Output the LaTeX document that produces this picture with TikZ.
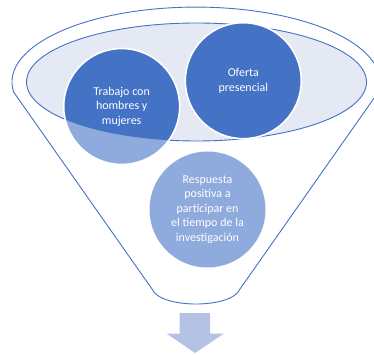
\documentclass[tikz,border=0pt]{standalone}
\usepackage{fontspec}
\setmainfont{Carlito}
\usetikzlibrary{shapes.geometric}
\definecolor{fdark}{RGB}{68,114,196}
\definecolor{flight}{RGB}{143,170,220}
\definecolor{frim}{RGB}{228,233,244}
\definecolor{farrow}{RGB}{180,194,228}
\tikzset{
  outline/.style={draw=fdark, line width=0.9pt},
  bubble/.style={circle, minimum size=116pt, inner sep=0pt},
  bubtxt/.style={align=center, text=white, font=\fontsize{12}{14.6}\selectfont, inner sep=0pt},
  ring/.style={draw=white, line width=1.6pt}
}
\begin{document}
\begin{tikzpicture}[x=1pt,y=-1pt]
\useasboundingbox (0,0) rectangle (374,355);
% funnel body
\draw[outline, fill=white] (13.6,92) arc[start angle=172.4, end angle=367.6, x radius=184, y radius=75]
  -- (240,289) .. controls (232,309) and (160,309) .. (152,289) -- cycle;
% inner rim
\node[ellipse, outline, fill=frim, minimum width=340pt, minimum height=118pt, inner sep=0pt] (rim) at (196.5,82) {};
% circle 1
\node[bubble, fill=flight] (c1) at (121.7,106.5) {};
\begin{scope}
  \clip (196.5,82) ellipse [x radius=170, y radius=59];
  \fill[fdark] (c1.center) circle [radius=58];
\end{scope}
\draw[ring] (c1.center) circle [radius=58];
\node[bubtxt] (t1) at (c1.center) {Trabajo con\\hombres y\\mujeres};
% circle 2
\node[bubble, fill=fdark, ring] (c2) at (243.3,80.7) {};
\node[bubtxt] (t2) at (c2.center) {Oferta\\presencial};
% circle 3
\node[bubble, fill=flight] (c3) at (207.5,209.5) {};
\node[bubtxt] (t3) at (c3.center) {Respuesta\\positiva a\\participar en\\el tiempo de la\\investigación};
% down arrow
\fill[farrow] (179.5,313) -- (210,313) -- (210,333.5) -- (224,333.5) -- (195,353)
  -- (166.5,333.5) -- (179.5,333.5) -- cycle;
\end{tikzpicture}
\end{document}
